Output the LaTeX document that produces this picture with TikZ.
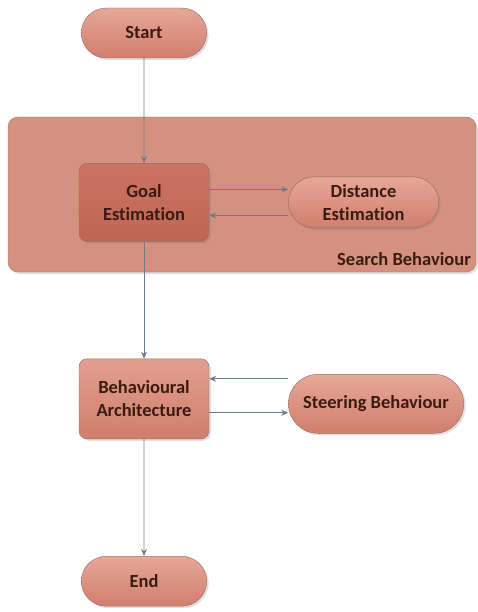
\documentclass[tikz,border=0pt]{standalone}
\usepackage{fontspec}
\setmainfont{Carlito}[Ligatures=NoCommon]
\usepackage{xcolor}
\usepackage{tikz}
\usetikzlibrary{shapes.misc, positioning, arrows.meta, shadows, backgrounds}

\definecolor{pillTop}{HTML}{E6A797}
\definecolor{pillBot}{HTML}{D17E6D}
\definecolor{boxTop}{HTML}{CB7463}
\definecolor{boxBot}{HTML}{BF6553}
\definecolor{groupFill}{HTML}{D4917F}
\definecolor{edgeCol}{HTML}{966A61}
\definecolor{lineCol}{HTML}{6F7C8E}
\definecolor{textCol}{HTML}{3A1B12}

\tikzset{
    pill/.style={rounded rectangle, draw=edgeCol, top color=pillTop, bottom color=pillBot,
        minimum width=132pt, minimum height=50pt, align=center, text=textCol,
        font=\bfseries\fontsize{18.5}{23.5}\selectfont, drop shadow={opacity=0.25, shadow xshift=2pt, shadow yshift=-2pt}},
    procbox/.style={rectangle, rounded corners=8pt, draw=edgeCol, top color=boxTop, bottom color=boxBot,
        minimum width=130pt, minimum height=78pt, align=center, text=textCol,
        font=\bfseries\fontsize{18.5}{23.5}\selectfont, drop shadow={opacity=0.25, shadow xshift=2pt, shadow yshift=-2pt}},
    flow/.style={draw=lineCol, line width=0.9pt, -{Stealth[length=7pt, width=6pt]}}
}

\begin{document}
\begin{tikzpicture}[x=1pt, y=1pt, node distance=79pt]
        \useasboundingbox (0,0) rectangle (478,-612);

        \node[pill] (start) at (144,-33) {Start};
        \node[procbox] (goal) [below=105pt of start] {Goal\\Estimation};
        \node[pill, minimum width=157pt, minimum height=51pt] (dist) [right=of goal] {Distance\\Estimation};
        \node[procbox, top color=pillTop!85!boxTop, bottom color=pillBot, minimum height=80pt] (arch) [below=117pt of goal] {Behavioural\\Architecture};
        \node[pill, minimum width=182pt, minimum height=59pt] (steer) [right=of arch, yshift=-5pt] {Steering Behaviour};
        \node[pill] (end) [below=117pt of arch] {End};

        % search behaviour group
        \begin{scope}[on background layer]
            \draw[draw=edgeCol!90, fill=groupFill, rounded corners=10pt,
                drop shadow={opacity=0.25, shadow xshift=2pt, shadow yshift=-2pt}]
                (8,-117) rectangle (476,-272);
        \end{scope}
        \node[anchor=south east, text=textCol, font=\bfseries\fontsize{18.5}{21}\selectfont, inner sep=0pt] (search) at (471,-266) {Search Behaviour};

        \draw[flow] (start) -- (goal);
        \draw[flow] ([yshift=13pt]goal.east) -- ([yshift=13pt]goal.east -| dist.west);
        \draw[flow] ([yshift=-13pt]goal.east -| dist.west) -- ([yshift=-13pt]goal.east);
        \draw[flow] (goal) -- (arch);
        \draw[flow] ([yshift=20pt]arch.east -| steer.west) -- ([yshift=20pt]arch.east);
        \draw[flow] ([yshift=-14pt]arch.east) -- ([yshift=-14pt]arch.east -| steer.west);
        \draw[flow] (arch) -- (end);

\end{tikzpicture}
\end{document}
